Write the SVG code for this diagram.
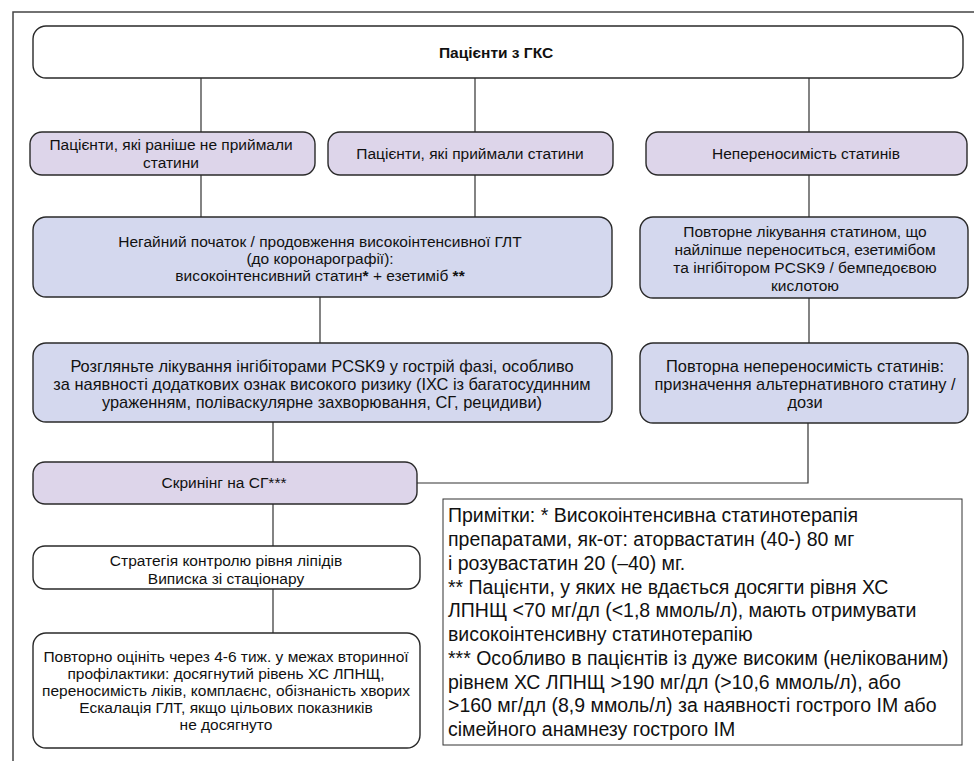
<svg xmlns="http://www.w3.org/2000/svg" width="974" height="761" viewBox="0 0 974 761">
<style>
.box{stroke:#2a2a2a;stroke-width:1.4}
.w{fill:#ffffff}
.p{fill:#ddd5ea}
.b{fill:#d4d8ee}
.t{font-family:"Liberation Sans",Arial,sans-serif;font-size:15.5px;fill:#111;text-anchor:middle}
.m{font-size:16.4px}
.n{font-family:"Liberation Sans",Arial,sans-serif;font-size:19.5px;fill:#111}
.c{stroke:#333;stroke-width:1.2;fill:none}
</style>
<rect width="974" height="761" fill="#ffffff"/>
<path d="M13 761 V12 H974" fill="none" stroke="#444" stroke-width="1.5"/>
<g id="connectors">
<path class="c" d="M201 78 V132 M475 78 V132 M809 78 V132"/>
<path class="c" d="M201 175 V217 M475 175 V217 M809 175 V217"/>
<path class="c" d="M320 297 V343 M809 298 V343"/>
<path class="c" d="M273 422 V462 M808 423 V483 H417"/>
<path class="c" d="M273 504 V546 M273 589 V633"/>
</g>
<g id="n1"><rect class="box w" x="33" y="26" width="930" height="52" rx="13"/>
<text class="t" x="496" y="58" font-weight="bold" font-size="16.5">Пацієнти з ГКС</text></g>
<g id="n2"><rect class="box p" x="30" y="132" width="285" height="43" rx="12"/>
<text class="t" x="171" y="150">Пацієнти, які раніше не приймали</text>
<text class="t" x="171" y="168">статини</text></g>
<g id="n3"><rect class="box p" x="328" y="132" width="285" height="43" rx="12"/>
<text class="t" x="470" y="159">Пацієнти, які приймали статини</text></g>
<g id="n4"><rect class="box p" x="646" y="132" width="321" height="43" rx="12"/>
<text class="t" x="806" y="159">Непереносимість статинів</text></g>
<g id="n5"><rect class="box b" x="33" y="217" width="579" height="80" rx="13"/>
<text class="t" x="320" y="247" font-size="15.8">Негайний початок / продовження високоінтенсивної ГЛТ</text>
<text class="t" x="320" y="264" font-size="15.8">(до коронарографії):</text>
<text class="t" x="320" y="281" font-size="15.8">високоінтенсивний статин<tspan font-weight="bold">*</tspan> + езетиміб <tspan font-weight="bold">**</tspan></text></g>
<g id="n6"><rect class="box b" x="640" y="217" width="328" height="81" rx="13"/>
<text class="t" x="805" y="237" font-size="15.8">Повторне лікування статином, що</text>
<text class="t" x="805" y="255" font-size="15.8">найліпше переноситься, езетимібом</text>
<text class="t" x="805" y="273" font-size="15.8">та інгібітором PCSK9 / бемпедоєвою</text>
<text class="t" x="805" y="291" font-size="15.8">кислотою</text></g>
<g id="n7"><rect class="box b" x="33" y="343" width="579" height="79" rx="13"/>
<text class="t m" x="322" y="372">Розгляньте лікування інгібіторами PCSK9 у гострій фазі, особливо</text>
<text class="t m" x="322" y="390">за наявності додаткових ознак високого ризику (ІХС із багатосудинним</text>
<text class="t m" x="322" y="408">ураженням, поліваскулярне захворювання, СГ, рецидиви)</text></g>
<g id="n8"><rect class="box b" x="640" y="343" width="328" height="80" rx="13"/>
<text class="t m" x="805" y="372">Повторна непереносимість статинів:</text>
<text class="t m" x="805" y="390">призначення альтернативного статину /</text>
<text class="t m" x="805" y="408">дози</text></g>
<g id="n9"><rect class="box p" x="33" y="462" width="384" height="42" rx="12"/>
<text class="t" x="224" y="488" font-size="16">Скринінг на СГ***</text></g>
<g id="n10"><rect class="box w" x="33" y="546" width="387" height="43" rx="12"/>
<text class="t" x="226" y="566" font-size="15.8">Стратегія контролю рівня ліпідів</text>
<text class="t" x="226" y="584" font-size="15.8">Виписка зі стаціонару</text></g>
<g id="n11"><rect class="box w" x="33" y="633" width="387" height="115" rx="13"/>
<text class="t" x="226" y="662" font-size="15.8">Повторно оцініть через 4-6 тиж. у межах вторинної</text>
<text class="t" x="226" y="679" font-size="15.8">профілактики: досягнутий рівень ХС ЛПНЩ,</text>
<text class="t" x="226" y="696" font-size="15.8">переносимість ліків, комплаєнс, обізнаність хворих</text>
<text class="t" x="226" y="713" font-size="15.8">Ескалація ГЛТ, якщо цільових показників</text>
<text class="t" x="226" y="730" font-size="15.8">не досягнуто</text></g>
<g id="notes"><rect x="443" y="499" width="519" height="246" fill="#ffffff" stroke="#333" stroke-width="1"/>
<text class="n" x="448" y="522">Примітки: * Високоінтенсивна статинотерапія</text>
<text class="n" x="448" y="546">препаратами, як-от: аторвастатин (40-) 80 мг</text>
<text class="n" x="448" y="570">і розувастатин 20 (–40) мг.</text>
<text class="n" x="448" y="594">** Пацієнти, у яких не вдається досягти рівня ХС</text>
<text class="n" x="448" y="617">ЛПНЩ &lt;70 мг/дл (&lt;1,8 ммоль/л), мають отримувати</text>
<text class="n" x="448" y="641">високоінтенсивну статинотерапію</text>
<text class="n" x="448" y="665">*** Особливо в пацієнтів із дуже високим (нелікованим)</text>
<text class="n" x="448" y="689">рівнем ХС ЛПНЩ &gt;190 мг/дл (&gt;10,6 ммоль/л), або</text>
<text class="n" x="448" y="712">&gt;160 мг/дл (8,9 ммоль/л) за наявності гострого ІМ або</text>
<text class="n" x="448" y="736">сімейного анамнезу гострого ІМ</text></g>
</svg>
